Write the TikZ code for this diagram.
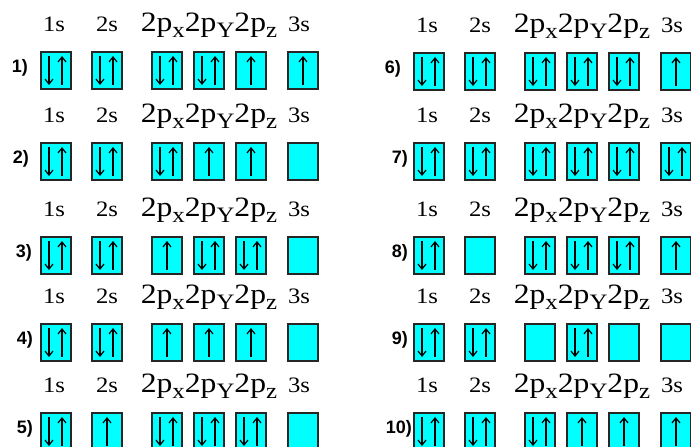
\documentclass[tikz,border=0pt]{standalone}
\usepackage{fontspec}
\setmainfont{Liberation Serif}
\newfontfamily\lblfont{Liberation Sans}
\usetikzlibrary{arrows.meta}
\definecolor{aqua}{RGB}{0,255,255}
\newcommand\pl[1]{{\fontsize{28}{28}\selectfont 2p}\raisebox{-6pt}{\fontsize{22}{22}\selectfont #1}}
\newcommand\hs[2]{\scalebox{#1}[1]{#2}}
\newcommand\orb[5]{%
  \node[orb] (b#1-#2) at (#3,#4) {};
  \ifcase#5\relax
  \or
    \draw[spin] ([shift={(0,-4)}]b#1-#2.south) -- ([shift={(0,4)}]b#1-#2.north);
  \or
    \draw[spin] ([shift={(-7,4)}]b#1-#2.north) -- ([shift={(-7,-4)}]b#1-#2.south);
    \draw[spin] ([shift={(6,-4)}]b#1-#2.south) -- ([shift={(6,4)}]b#1-#2.north);
  \fi}
\newcommand\orbrow[9]{%
  \node[hdr] (h#1-a) at (#2+13,#3-21) {\hs{1.12}{1s}};
  \node[hdr] (h#1-b) at (#2+66,#3-21) {\hs{1.12}{2s}};
  \node[hdr] (h#1-p) at (#2+168,#3-21) {\hs{1.13}{\pl{x}\pl{Y}\pl{z}}};
  \node[hdr] (h#1-c) at (#2+258,#3-21) {\hs{1.12}{3s}};
  \orb{#1}{1}{#2}{#3}{#4}
  \orb{#1}{2}{#2+51}{#3}{#5}
  \orb{#1}{3}{#2+111}{#3}{#6}
  \orb{#1}{4}{#2+153}{#3}{#7}
  \orb{#1}{5}{#2+195}{#3}{#8}
  \orb{#1}{6}{#2+247}{#3}{#9}}
\begin{document}
\begin{tikzpicture}[x=1pt,y=-1pt,
  orb/.style={draw=black!85, line width=1.4pt, fill=aqua, minimum width=30pt,
    minimum height=37pt, inner sep=0pt, outer sep=0pt, anchor=north west},
  spin/.style={line width=1.2pt, -{Straight Barb[length=5pt,width=8pt]}},
  rowlbl/.style={font=\lblfont\bfseries\fontsize{18}{18}\selectfont, anchor=east, inner sep=0pt},
  hdr/.style={font=\fontsize{22}{22}\selectfont, anchor=base, inner sep=0pt}]
\useasboundingbox (0,0) rectangle (691,447);
\fill[white] (0,0) rectangle (691,447);
\orbrow{1}{41}{52}{2}{2}{2}{2}{1}{1}
\orbrow{2}{41}{143}{2}{2}{2}{1}{1}{0}
\orbrow{3}{41}{237}{2}{2}{1}{2}{2}{0}
\orbrow{4}{41}{324}{2}{2}{1}{1}{1}{0}
\orbrow{5}{41}{413}{2}{1}{2}{2}{2}{0}
\orbrow{6}{414}{53}{2}{2}{2}{2}{2}{1}
\orbrow{7}{414}{143}{2}{2}{2}{2}{2}{2}
\orbrow{8}{414}{237}{2}{0}{2}{2}{2}{1}
\orbrow{9}{414}{324}{2}{2}{0}{2}{0}{0}
\orbrow{10}{414}{413}{2}{2}{2}{1}{1}{1}
\node[rowlbl] (l1) at (28,68) {1)};
\node[rowlbl] (l2) at (29,159) {2)};
\node[rowlbl] (l3) at (32,253) {3)};
\node[rowlbl] (l4) at (33,340) {4)};
\node[rowlbl] (l5) at (33,429) {5)};
\node[rowlbl] (l6) at (401,69) {6)};
\node[rowlbl] (l7) at (408,159) {7)};
\node[rowlbl] (l8) at (408,253) {8)};
\node[rowlbl] (l9) at (408,340) {9)};
\node[rowlbl] (l10) at (412,429) {10)};
\end{tikzpicture}
\end{document}
